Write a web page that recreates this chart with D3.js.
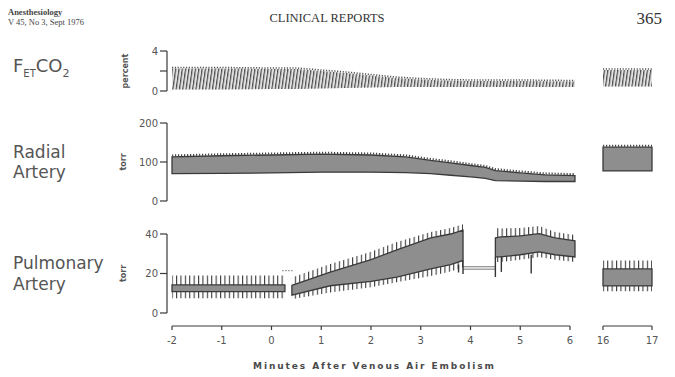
<!DOCTYPE html>
<html>
<head>
<meta charset="utf-8">
<script src="https://cdn.jsdelivr.net/npm/d3@7"></script>
<style>
    body { margin: 0; background: #fff; }
    svg { display: block; }
</style>
</head>
<body>
<div id="chart"></div>
<script>
// end-tidal CO2, percent
const fetTime = [-2, -1, 0, 0.5, 1, 1.5, 2, 2.5, 3, 3.5, 4, 5, 6.1];
const fetHigh = [2.25, 2.25, 2.2, 2.2, 2.0, 1.8, 1.55, 1.3, 1.15, 1.05, 1.0, 1.0, 0.95];
const fetLow = [0.15, 0.15, 0.2, 0.2, 0.25, 0.3, 0.35, 0.4, 0.4, 0.4, 0.4, 0.4, 0.4];
const fetLateTime = [16, 17];
const fetLateHigh = [2.1, 2.1];
const fetLateLow = [0.45, 0.45];

// radial artery, torr
const raTime = [-2, -1, 0, 1, 2, 2.7, 3.2, 3.6, 4.0, 4.3, 4.5, 5.0, 5.5, 6.1];
const raSys = [113, 116, 118, 120, 118, 113, 104, 98, 91, 86, 78, 72, 67, 65];
const raDia = [70, 71, 72, 74, 74, 73, 70, 66, 62, 58, 52, 51, 50, 50];
const raLateTime = [16, 17];
const raLateSys = [138, 138];
const raLateDia = [77, 77];

// pulmonary artery, torr (segments split by the gaps in the record)
const paTime = [-2, -1, 0, 0.27, 0.41, 1.18, 2.0, 2.52, 3.2, 3.6, 3.85, 4.5, 4.6, 5.0, 5.38, 5.7, 6.1];
const paSeg = [1, 1, 1, 1, 2, 2, 2, 2, 2, 2, 2, 3, 3, 3, 3, 3, 3];
const paPeak = [19, 19, 19, 19, 18, 24.8, 31, 36, 41, 43, 45, 43, 42.8, 43, 44, 41, 39.5];
const paSys = [14.2, 14.2, 14.2, 14.2, 14, 20.7, 27, 32, 38, 40, 42, 38, 38.5, 39, 40.2, 38, 36.5];
const paDia = [10.8, 10.8, 10.8, 10.8, 9, 13.8, 16, 18.2, 22.3, 24.5, 26.6, 28.4, 28.4, 29.5, 30.9, 29.5, 28.4];
const paTrough = [7.5, 7.5, 7.5, 7.5, 7, 10.4, 13, 15.6, 18.7, 21, 23, 25.8, 25.8, 27, 28.4, 27, 25.8];
const paLateTime = [16, 17];
const paLatePeak = [26.6, 26.6];
const paLateSys = [22.3, 22.3];
const paLateDia = [13.7, 13.7];
const paLateTrough = [11, 11];
const paDropTime = [3.76, 3.85, 4.5, 4.62, 5.22];
const paDropLow = [20.5, 19.7, 18.2, 20.8, 20];
const paFlushTime = [3.85, 4.5];
const paFlushLevel = 22.8;

const xTicks = [-2, -1, 0, 1, 2, 3, 4, 5, 6];
const xLateTicks = [16, 17];

const width = 675, height = 377;
const ink = "#3a3a3a", label = "#555", band = "#8e8e8e";

const svg = d3.select("#chart").append("svg")
    .attr("width", width).attr("height", height)
    .style("background", "#fff");

const defs = svg.append("defs");
defs.append("pattern").attr("id", "breath")
    .attr("patternUnits", "userSpaceOnUse")
    .attr("width", 3.3).attr("height", 40)
    .attr("patternTransform", "skewX(-8)")
    .append("rect").attr("width", 1.2).attr("height", 40).attr("fill", "#4a4a4a");
defs.append("pattern").attr("id", "spikes")
    .attr("patternUnits", "userSpaceOnUse")
    .attr("width", 4.4).attr("height", 40)
    .append("rect").attr("width", 1.1).attr("height", 40).attr("fill", "#3a3a3a");

const x = d3.scaleLinear().domain([-2, 6]).range([172, 570]);
const xLate = d3.scaleLinear().domain([16, 17]).range([603, 652]);
const yFet = d3.scaleLinear().domain([0, 4]).range([91, 51]);
const yRa = d3.scaleLinear().domain([0, 200]).range([201, 123]);
const yPa = d3.scaleLinear().domain([0, 40]).range([313, 234]);

// header of the journal page
const serif = "'Liberation Serif', 'DejaVu Serif', serif";
svg.append("text").attr("x", 8).attr("y", 15).attr("font-family", serif)
    .attr("font-size", 8.5).attr("font-weight", "bold").attr("fill", "#444")
    .text("Anesthesiology");
svg.append("text").attr("x", 8).attr("y", 25).attr("font-family", serif)
    .attr("font-size", 8.5).attr("fill", "#444")
    .text("V 45, No 3, Sept 1976");
svg.append("text").attr("x", 327).attr("y", 22).attr("text-anchor", "middle")
    .attr("font-family", serif).attr("font-size", 12.5).attr("fill", "#333")
    .text("CLINICAL REPORTS");
svg.append("text").attr("x", 662).attr("y", 24).attr("text-anchor", "end")
    .attr("font-family", serif).attr("font-size", 17).attr("fill", "#333")
    .text("365");

const sans = "'DejaVu Sans', sans-serif";

function yAxis(scale, ticks, labelled, unit, unitX) {
    const g = svg.append("g").attr("fill", "none").attr("stroke", ink).attr("stroke-width", 1.2);
    const [d0, d1] = scale.domain();
    g.append("line").attr("x1", 167).attr("x2", 167)
        .attr("y1", scale(d0)).attr("y2", scale(d1));
    ticks.forEach((t) => {
        g.append("line").attr("x1", 160).attr("x2", 167)
            .attr("y1", scale(t)).attr("y2", scale(t));
    });
    labelled.forEach((t) => {
        svg.append("text").attr("x", 158).attr("y", scale(t)).attr("dy", "0.35em")
            .attr("text-anchor", "end").attr("font-family", sans)
            .attr("font-size", 10).attr("fill", label).text(t);
    });
    const mid = (scale(d0) + scale(d1)) / 2;
    svg.append("text")
        .attr("transform", `translate(${unitX},${mid}) rotate(-90)`)
        .attr("text-anchor", "middle").attr("dy", "0.35em")
        .attr("font-family", sans).attr("font-size", 8).attr("font-weight", "bold")
        .attr("fill", label).text(unit);
}

yAxis(yFet, [0, 2, 4], [0, 4], "percent", 125);
yAxis(yRa, [0, 100, 200], [0, 100, 200], "torr", 123);
yAxis(yPa, [0, 20, 40], [0, 20, 40], "torr", 123);

// panel names
const nameFont = { "font-family": sans, "font-size": 17, "fill": label };
const fet = svg.append("text").attr("x", 13).attr("y", 72)
    .attr("font-family", sans).attr("font-size", 18).attr("fill", label);
fet.append("tspan").text("F");
fet.append("tspan").attr("font-size", 10).attr("dy", 5).text("ET");
fet.append("tspan").attr("dy", -5).text("CO");
fet.append("tspan").attr("font-size", 11).attr("dy", 5).text("2");
[["Radial", 13, 158], ["Artery", 13, 178], ["Pulmonary", 13, 269], ["Artery", 13, 290]]
    .forEach(([t, px, py]) => {
        const el = svg.append("text").attr("x", px).attr("y", py).text(t);
        Object.entries(nameFont).forEach(([k, v]) => el.attr(k, v));
    });

// end-tidal CO2 trace
function breathTrace(xs, times, hi, lo) {
    const pts = times.map((t, i) => ({ t, hi: hi[i], lo: lo[i] }));
    const area = d3.area().x((d) => xs(d.t)).y0((d) => yFet(d.lo)).y1((d) => yFet(d.hi));
    svg.append("path").attr("d", area(pts)).attr("fill", "#e2e2e2");
    svg.append("path").attr("d", area(pts)).attr("fill", "url(#breath)");
    svg.append("path")
        .attr("d", d3.line().x((d) => xs(d.t)).y((d) => yFet(d.hi) - 1)(pts))
        .attr("fill", "none").attr("stroke", "#555").attr("stroke-width", 1.5)
        .attr("stroke-dasharray", "1.2,1.6");
}
breathTrace(x, fetTime, fetHigh, fetLow);
breathTrace(xLate, fetLateTime, fetLateHigh, fetLateLow);

// radial artery trace
function radialTrace(xs, times, sys, dia) {
    const pts = times.map((t, i) => ({ t, s: sys[i], d: dia[i] }));
    const area = d3.area().x((d) => xs(d.t)).y0((d) => yRa(d.d)).y1((d) => yRa(d.s));
    svg.append("path").attr("d", area(pts))
        .attr("fill", band).attr("stroke", ink).attr("stroke-width", 1.3);
    svg.append("path")
        .attr("d", d3.line().x((d) => xs(d.t)).y((d) => yRa(d.s) - 1.5)(pts))
        .attr("fill", "none").attr("stroke", "#444").attr("stroke-width", 2)
        .attr("stroke-dasharray", "1.2,1.8");
}
radialTrace(x, raTime, raSys, raDia);
radialTrace(xLate, raLateTime, raLateSys, raLateDia);

// pulmonary artery trace
function pulmonaryTrace(xs, pts) {
    const top = d3.area().x((d) => xs(d.t)).y0((d) => yPa(d.s)).y1((d) => yPa(d.p));
    const bottom = d3.area().x((d) => xs(d.t)).y0((d) => yPa(d.d)).y1((d) => yPa(d.tr));
    const mid = d3.area().x((d) => xs(d.t)).y0((d) => yPa(d.d)).y1((d) => yPa(d.s));
    svg.append("path").attr("d", top(pts)).attr("fill", "url(#spikes)");
    svg.append("path").attr("d", bottom(pts)).attr("fill", "url(#spikes)");
    svg.append("path").attr("d", mid(pts))
        .attr("fill", band).attr("stroke", ink).attr("stroke-width", 1.3);
}
const paPts = paTime.map((t, i) => ({
    t, seg: paSeg[i], p: paPeak[i], s: paSys[i], d: paDia[i], tr: paTrough[i]
}));
d3.group(paPts, (d) => d.seg).forEach((pts) => pulmonaryTrace(x, pts));
pulmonaryTrace(xLate, paLateTime.map((t, i) => ({
    t, p: paLatePeak[i], s: paLateSys[i], d: paLateDia[i], tr: paLateTrough[i]
})));

// flush line between records and the long artefact strokes
[-1.2, 1.2].forEach((off) => {
    svg.append("line")
        .attr("x1", x(paFlushTime[0])).attr("x2", x(paFlushTime[1]))
        .attr("y1", yPa(paFlushLevel) + off).attr("y2", yPa(paFlushLevel) + off)
        .attr("stroke", "#666").attr("stroke-width", 0.9);
});
paDropTime.forEach((t, i) => {
    const near = paPts.filter((d) => d.t <= t + 0.01).pop();
    svg.append("line").attr("x1", x(t)).attr("x2", x(t))
        .attr("y1", yPa(near.d)).attr("y2", yPa(paDropLow[i]))
        .attr("stroke", "#333").attr("stroke-width", 1.4);
});
svg.append("line")
    .attr("x1", x(0.22)).attr("x2", x(0.42))
    .attr("y1", yPa(21.5)).attr("y2", yPa(21.5))
    .attr("stroke", "#555").attr("stroke-width", 1.3).attr("stroke-dasharray", "1,2");

// time axes
function timeAxis(xs, ticks) {
    const g = svg.append("g").attr("stroke", ink).attr("stroke-width", 1.2);
    g.append("line").attr("x1", xs.range()[0]).attr("x2", xs.range()[1])
        .attr("y1", 326).attr("y2", 326);
    ticks.forEach((t) => {
        g.append("line").attr("x1", xs(t)).attr("x2", xs(t)).attr("y1", 326).attr("y2", 330);
        svg.append("text").attr("x", xs(t)).attr("y", 344).attr("text-anchor", "middle")
            .attr("font-family", sans).attr("font-size", 10).attr("fill", label).text(t);
    });
}
timeAxis(x, xTicks);
timeAxis(xLate, xLateTicks);

svg.append("text").attr("x", 253).attr("y", 369)
    .attr("textLength", 241).attr("lengthAdjust", "spacing")
    .attr("font-family", sans).attr("font-size", 9).attr("font-weight", "bold")
    .attr("fill", "#4a4a4a").text("Minutes After Venous Air Embolism");
</script>
</body>
</html>
